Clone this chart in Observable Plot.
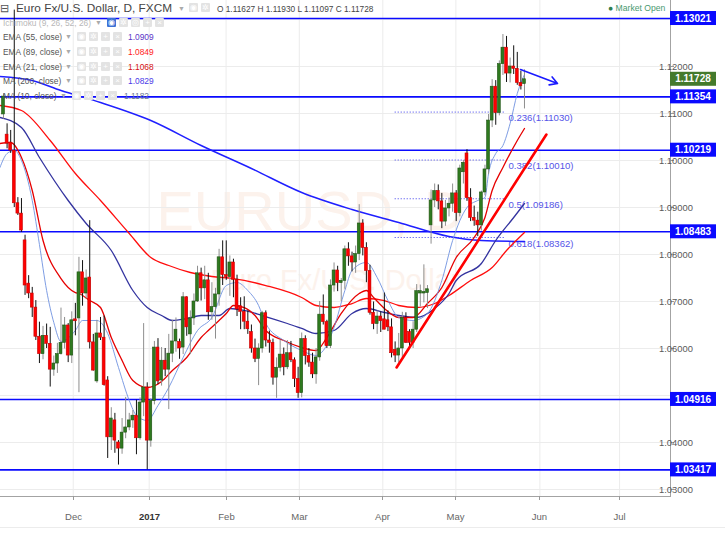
<!DOCTYPE html>
<html><head><meta charset="utf-8">
<script src="https://cdn.jsdelivr.net/npm/d3@7"></script>
<script src="https://cdn.jsdelivr.net/npm/@observablehq/plot@0.6"></script>
<style>
body{margin:0;background:#fff;font-family:"Liberation Sans",Arial,sans-serif;}
#wrap{position:relative;width:725px;height:543px;overflow:hidden;}
#chart{position:absolute;left:0;top:0;}
.ov{position:absolute;white-space:nowrap;line-height:1;}
.ic{position:absolute;width:9px;height:9px;background:#e3e3e3;border-radius:1px;color:#fff;font-size:8px;text-align:center;line-height:9px;}
.lg{position:absolute;left:3px;font-size:8.4px;color:#555;white-space:nowrap;}
.val{position:absolute;left:128px;font-size:8.4px;white-space:nowrap;}
.dd{position:absolute;font-size:7px;color:#aaa;}
</style></head><body>
<div id="wrap"><div id="chart"></div>
<div class="ov" style="left:0px;top:3px;font-size:11px;color:#555;">⊟</div>
<div class="ov" style="left:16px;top:3px;font-size:11.8px;color:#444;">Euro Fx/U.S. Dollar, D, FXCM</div>
<div class="dd" style="left:178px;top:5px;">▼</div>
<div class="ic" style="left:189px;top:3px;">◉</div>
<div class="ic" style="left:201px;top:3px;">✲</div>
<div class="ov" style="left:217px;top:5px;font-size:8.3px;color:#444;">O 1.11627 H 1.11930 L 1.11097 C 1.11728</div>
<div class="ov" style="left:608px;top:4px;font-size:8.6px;color:#4a9a70;"><span style="color:#2e7d4f">●</span> Market Open</div>

<div class="lg" style="top:18px;color:#b8b8b8;">Ichimoku (9, 26, 52, 26)</div><div class="dd" style="left:95px;top:19px;">▼</div>
<div class="ic" style="left:107px;top:18px;background:#3c72d6;">◉</div><div class="ic" style="left:119px;top:18px;">✲</div><div class="ic" style="left:131px;top:18px;">◎</div><div class="ic" style="left:143px;top:18px;">+</div><div class="ic" style="left:155px;top:18px;">×</div>

<div class="lg" style="top:32px;">EMA (55, close)</div><div class="dd" style="left:65px;top:33px;">▼</div>
<div class="ic" style="left:77px;top:32px;">◉</div><div class="ic" style="left:89px;top:32px;">✲</div><div class="ic" style="left:101px;top:32px;">+</div><div class="ic" style="left:113px;top:32px;">×</div>
<div class="val" style="top:32px;color:#5a36c8;">1.0909</div>

<div class="lg" style="top:47px;">EMA (89, close)</div><div class="dd" style="left:65px;top:48px;">▼</div>
<div class="ic" style="left:77px;top:47px;">◉</div><div class="ic" style="left:89px;top:47px;">✲</div><div class="ic" style="left:101px;top:47px;">+</div><div class="ic" style="left:113px;top:47px;">×</div>
<div class="val" style="top:47px;color:#ff1a1a;">1.0849</div>

<div class="lg" style="top:62px;">EMA (21, close)</div><div class="dd" style="left:65px;top:63px;">▼</div>
<div class="ic" style="left:77px;top:62px;">◉</div><div class="ic" style="left:89px;top:62px;">✲</div><div class="ic" style="left:101px;top:62px;">+</div><div class="ic" style="left:113px;top:62px;">×</div>
<div class="val" style="top:62px;color:#d41010;">1.1068</div>

<div class="lg" style="top:76px;">MA (200, close)</div><div class="dd" style="left:65px;top:77px;">▼</div>
<div class="ic" style="left:77px;top:76px;">◉</div><div class="ic" style="left:89px;top:76px;">✲</div><div class="ic" style="left:101px;top:76px;">+</div><div class="ic" style="left:113px;top:76px;">×</div>
<div class="val" style="top:76px;color:#4a3ae8;">1.0829</div>

<div class="lg" style="top:91px;">MA (10, close)</div><div class="dd" style="left:60px;top:92px;">▼</div>
<div class="ic" style="left:72px;top:91px;">◉</div><div class="ic" style="left:84px;top:91px;">✲</div><div class="ic" style="left:96px;top:91px;">+</div><div class="ic" style="left:108px;top:91px;">×</div>
<div class="val" style="top:91px;left:124px;color:#6a7894;">1.1182</div>
</div>
<script>
// ---- OHLC data (daily sessions, 4 Nov 2016 .. 30 May 2017) ----
const openP = [1.1098,1.1055,1.1038,1.1021,1.0909,1.0887,1.0830,1.0738,1.0717,1.0687,
1.0625,1.0588,1.0627,1.0610,1.0555,1.0568,1.0588,1.0612,1.0649,1.0585,
1.0662,1.0664,1.0762,1.0717,1.0751,1.0613,1.0530,1.0632,1.0623,1.0532,
1.0411,1.0447,1.0400,1.0387,1.0421,1.0432,1.0447,1.0457,1.0409,1.0485,
1.0517,1.0404,1.0488,1.0602,1.0532,1.0574,1.0555,1.0589,1.0615,1.0614,
1.0602,1.0709,1.0630,1.0664,1.0700,1.0760,1.0728,1.0745,1.0677,1.0688,
1.0715,1.0794,1.0756,1.0752,1.0783,1.0746,1.0690,1.0678,1.0657,1.0635,
1.0600,1.0578,1.0600,1.0675,1.0617,1.0612,1.0538,1.0559,1.0587,1.0560,
1.0590,1.0575,1.0535,1.0505,1.0620,1.0584,1.0570,1.0545,1.0581,1.0672,
1.0656,1.0605,1.0734,1.0766,1.0739,1.0744,1.0811,1.0796,1.0783,1.0801,
1.0866,1.0814,1.0765,1.0676,1.0652,1.0668,1.0662,1.0660,1.0645,1.0597,
1.0585,1.0600,1.0665,1.0635,1.0612,1.0640,1.0717,1.0717,1.0718,1.0862,
1.0915,1.0935,1.0913,1.0870,1.0898,1.0908,1.0930,1.0888,1.0975,1.1015,
1.0920,1.0878,1.0872,1.0862,1.0932,1.0981,1.1085,1.1157,1.1101,1.1205,
1.1240,1.1185,1.1200,1.1195,1.1165,1.11627];
const highP = [1.1142,1.1078,1.1064,1.1320,1.0921,1.0919,1.0841,1.0755,1.0730,1.0702,
1.0656,1.0647,1.0652,1.0645,1.0584,1.0611,1.0686,1.0666,1.0653,1.0678,
1.0696,1.0794,1.0787,1.0767,1.0872,1.0630,1.0660,1.0666,1.0669,1.0540,
1.0474,1.0462,1.0404,1.0451,1.0496,1.0462,1.0468,1.0490,1.0495,1.0653,
1.0527,1.0493,1.0615,1.0621,1.0602,1.0600,1.0630,1.0660,1.0665,1.0620,
1.0719,1.0710,1.0680,1.0716,1.0775,1.0771,1.0775,1.0760,1.0740,1.0728,
1.0811,1.0829,1.0829,1.0797,1.0790,1.0756,1.0708,1.0710,1.0680,1.0650,
1.0620,1.0610,1.0679,1.0680,1.0637,1.0620,1.0580,1.0618,1.0601,1.0617,
1.0615,1.0580,1.0560,1.0633,1.0627,1.0600,1.0590,1.0600,1.0700,1.0714,
1.0660,1.0746,1.0782,1.0775,1.0749,1.0818,1.0825,1.0805,1.0818,1.0906,
1.0874,1.0825,1.0777,1.0699,1.0680,1.0678,1.0718,1.0680,1.0663,1.0614,
1.0632,1.0677,1.0676,1.0640,1.0657,1.0736,1.0735,1.0778,1.0734,1.0937,
1.0950,1.0948,1.0930,1.0915,1.0920,1.0950,1.0936,1.0990,1.1000,1.1023,
1.0940,1.0903,1.0890,1.0935,1.0990,1.1098,1.1172,1.1170,1.1212,1.1268,
1.1264,1.1218,1.1244,1.1230,1.1190,1.11930];
const lowP = [1.1088,1.1025,1.1015,1.0900,1.0883,1.0847,1.0713,1.0706,1.0666,1.0617,
1.0568,1.0576,1.0600,1.0518,1.0541,1.0547,1.0586,1.0599,1.0570,1.0568,
1.0627,1.0506,1.0690,1.0705,1.0599,1.0552,1.0526,1.0617,1.0520,1.0366,
1.0383,1.0377,1.0352,1.0375,1.0408,1.0425,1.0430,1.0374,1.0405,1.0455,
1.0342,1.0390,1.0480,1.0523,1.0520,1.0540,1.0470,1.0570,1.0592,1.0577,
1.0587,1.0626,1.0587,1.0649,1.0698,1.0701,1.0704,1.0660,1.0660,1.0620,
1.0690,1.0734,1.0745,1.0711,1.0708,1.0668,1.0640,1.0640,1.0630,1.0590,
1.0570,1.0521,1.0590,1.0603,1.0590,1.0522,1.0494,1.0550,1.0542,1.0555,
1.0570,1.0517,1.0494,1.0495,1.0565,1.0560,1.0536,1.0524,1.0573,1.0650,
1.0600,1.0600,1.0720,1.0721,1.0700,1.0726,1.0775,1.0763,1.0760,1.0787,
1.0797,1.0740,1.0671,1.0640,1.0630,1.0634,1.0640,1.0636,1.0580,1.0570,
1.0569,1.0580,1.0611,1.0602,1.0600,1.0634,1.0688,1.0697,1.0685,1.0822,
1.0900,1.0895,1.0855,1.0860,1.0880,1.0890,1.0870,1.0880,1.0950,1.0913,
1.0870,1.0860,1.0838,1.0850,1.0925,1.0970,1.1070,1.1075,1.1095,1.1181,
1.1166,1.1165,1.1183,1.1160,1.1150,1.11097];
const closeP = [1.1136,1.1036,1.1021,1.0909,1.0887,1.0851,1.0734,1.0717,1.0687,1.0625,
1.0588,1.0627,1.0610,1.0555,1.0568,1.0588,1.0612,1.0649,1.0585,1.0660,
1.0658,1.0762,1.0717,1.0749,1.0613,1.0553,1.0632,1.0623,1.0522,1.0411,
1.0451,1.0404,1.0387,1.0421,1.0432,1.0447,1.0457,1.0409,1.0485,1.0517,
1.0404,1.0488,1.0602,1.0530,1.0574,1.0555,1.0589,1.0615,1.0640,1.0600,
1.0709,1.0645,1.0664,1.0700,1.0760,1.0728,1.0745,1.0677,1.0688,1.0715,
1.0794,1.0756,1.0752,1.0783,1.0746,1.0683,1.0678,1.0657,1.0641,1.0600,
1.0578,1.0600,1.0675,1.0617,1.0612,1.0538,1.0559,1.0587,1.0560,1.0590,
1.0575,1.0535,1.0505,1.0620,1.0584,1.0570,1.0545,1.0581,1.0672,1.0656,
1.0605,1.0734,1.0766,1.0739,1.0744,1.0811,1.0796,1.0783,1.0801,1.0866,
1.0814,1.0765,1.0676,1.0652,1.0668,1.0658,1.0640,1.0645,1.0590,1.0585,
1.0600,1.0665,1.0612,1.0612,1.0640,1.0722,1.0722,1.0720,1.0726,1.0915,
1.0935,1.0913,1.0870,1.0898,1.0908,1.0930,1.0888,1.0983,1.0995,1.0920,
1.0878,1.0872,1.0862,1.0932,1.0981,1.1085,1.1157,1.1101,1.1205,1.1240,
1.1185,1.1200,1.1195,1.1165,1.1158,1.11728];

// ---- indicator lines: [session index, price] ----
const ma10 = [[-1,1.09851],[1,1.10149],[3,1.10213],[5,1.10000],[8,1.09149],[10,1.08213],[12,1.07234],[14,1.06553],[16,1.06149],[20,1.06383],[22,1.06596],[26,1.06596],[29,1.06319],[32,1.05596],[35,1.04894],[37,1.04574],[40,1.04468],[43,1.04787],[46,1.05170],[50,1.05809],[54,1.06383],[58,1.06660],[62,1.07340],[65,1.07404],[68,1.07234],[71,1.06915],[73,1.06532],[78,1.06170],[83,1.05957],[87,1.05851],[89,1.05957],[92,1.06447],[95,1.07234],[97,1.07660],[101,1.07830],[104,1.07511],[107,1.07021],[110,1.06660],[114,1.06596],[118,1.06745],[122,1.07447],[125,1.08298],[129,1.09000],[132,1.09149],[134,1.09213],[135,1.09723],[137,1.10149],[139,1.10319],[141,1.10787],[143,1.11426],[145,1.11830]];
const ema21 = [[-1,1.10362],[2,1.10383],[5,1.10064],[8,1.09362],[11,1.08298],[16,1.07489],[20,1.07191],[21,1.07170],[24,1.07021],[27,1.06872],[30,1.06234],[33,1.05745],[36,1.05319],[40,1.05170],[44,1.05298],[47,1.05532],[51,1.05809],[55,1.06234],[57,1.06383],[60,1.06596],[62,1.06745],[64,1.06915],[67,1.06872],[70,1.06702],[73,1.06383],[78,1.06170],[83,1.06021],[87,1.05957],[90,1.06234],[94,1.06745],[99,1.07170],[101,1.07234],[103,1.07085],[106,1.06851],[110,1.06660],[114,1.06660],[118,1.06957],[122,1.07298],[126,1.07936],[131,1.08362],[134,1.08787],[136,1.09362],[139,1.09851],[143,1.10426],[145,1.10681]];
const ema55 = [[-1,1.10915],[5,1.10702],[10,1.10064],[18,1.09149],[23,1.08660],[30,1.08085],[36,1.07234],[40,1.06872],[44,1.06702],[47,1.06596],[51,1.06638],[55,1.06702],[60,1.06702],[63,1.06851],[67,1.06809],[72,1.06702],[79,1.06532],[83,1.06426],[87,1.06319],[92,1.06383],[97,1.06745],[101,1.06851],[106,1.06766],[110,1.06702],[115,1.06660],[120,1.06851],[124,1.07170],[126,1.07447],[133,1.07809],[137,1.08298],[142,1.08787],[145,1.09085]];
const ema89 = [[-1,1.11170],[5,1.11064],[13,1.10426],[20,1.09723],[27,1.09149],[35,1.08447],[41,1.07936],[46,1.07766],[52,1.07617],[58,1.07532],[64,1.07489],[73,1.07340],[83,1.07085],[87,1.06915],[92,1.06872],[97,1.06957],[101,1.07064],[106,1.07021],[110,1.06915],[115,1.06872],[120,1.06957],[124,1.07128],[130,1.07447],[136,1.07723],[140,1.08085],[145,1.08468]];
const ma200 = [[-1,1.11787],[8,1.11702],[16,1.11489],[27,1.11234],[41,1.10851],[55,1.10319],[69,1.09830],[83,1.09319],[97,1.08957],[110,1.08681],[124,1.08383],[133,1.08298],[145,1.08277]];

// ---- drawings ----
const levels = [1.13021, 1.11354, 1.10219, 1.08483, 1.04916, 1.03417];
const lastClose = 1.11728;
const fibLevels = [1.11030, 1.10010, 1.09186, 1.08362];
const fibRatios = ["0.236", "0.382", "0.5", "0.618"];
const fibFrom = 109, fibTo = 139.7;
const trendLine = [[109.4, 1.05596], [151.1, 1.10553]];
const arrowLine = {x1: 143.9, y1: 1.11936, x2: 154.2, y2: 1.11638};
const watermark = ["EURUSD, D", "Euro Fx/U.S. Dollar"];

// ---- axes ----
const gridPrices = [1.03,1.04,1.05,1.06,1.07,1.08,1.09,1.10,1.11,1.12,1.13];
const labelPrices = [1.03,1.04,1.06,1.07,1.08,1.09,1.10,1.11,1.12];
const monthTickPos = [19.40, 40.55, 61.95, 82.33, 105.57, 125.91, 149.29, 171.47];
const monthLabels = ["Dec","2017","Feb","Mar","Apr","May","Jun","Jul"];

const candles = openP.map((o, i) => ({i, open: o, high: highP[i], low: lowP[i], close: closeP[i]}));
const up = candles.filter(d => d.close >= d.open);
const down = candles.filter(d => d.close < d.open);
const fib = fibLevels.map((v, k) => ({v, label: `${fibRatios[k]}(${v.toFixed(5)})`}));
const months = monthTickPos.map((p, k) => ({p, label: monthLabels[k]}));

const FONT = "'Liberation Sans', Arial, sans-serif";

function axes(index, scales, values, dims) {
  const x = scales.x, y = scales.y;
  const g = d3.create("svg:g").attr("font-family", FONT);
  const right = dims.width - dims.marginRight;
  const bottom = dims.height - dims.marginBottom;
  g.append("line").attr("x1", right + 0.5).attr("x2", right + 0.5).attr("y1", 0).attr("y2", bottom + 1).attr("stroke", "#a3a3a3");
  g.append("line").attr("x1", 0).attr("x2", right).attr("y1", bottom + 0.5).attr("y2", bottom + 0.5).attr("stroke", "#a3a3a3");
  g.append("line").attr("x1", 0).attr("x2", dims.width).attr("y1", bottom + 31.5).attr("y2", bottom + 31.5).attr("stroke", "#ececec");
  for (const t of labelPrices) {
    const yy = Math.round(y(t)) + 0.5;
    g.append("line").attr("x1", right).attr("x2", right + 4).attr("y1", yy).attr("y2", yy).attr("stroke", "#999");
    g.append("text").attr("x", right + 6).attr("y", yy).attr("dy", "0.35em").attr("font-size", 9.4).attr("fill", "#5a5a5a").text(t.toFixed(5));
  }
  for (const m of months) {
    const xx = Math.round(x(m.p)) + 0.5;
    g.append("line").attr("x1", xx).attr("x2", xx).attr("y1", bottom).attr("y2", bottom + 4).attr("stroke", "#999");
    g.append("text").attr("x", xx).attr("y", bottom + 21).attr("dy", "0.35em").attr("text-anchor", "middle")
      .attr("font-size", 9.5).attr("fill", m.label === "2017" ? "#333" : "#666").attr("font-weight", m.label === "2017" ? "bold" : "normal").text(m.label);
  }
  const box = (v, fill) => {
    const yy = y(v);
    g.append("rect").attr("x", right).attr("y", yy - 7).attr("width", 46).attr("height", 14).attr("fill", fill);
    g.append("text").attr("x", right + 23).attr("y", yy).attr("dy", "0.36em").attr("text-anchor", "middle")
      .attr("font-size", 10).attr("font-weight", "bold").attr("fill", "#fff").text(v.toFixed(5));
  };
  for (const v of levels) box(v, "#0a0aff");
  box(lastClose, "#447a2c");
  return g.node();
}

const chart = Plot.plot({
  width: 725, height: 543,
  marginLeft: 0, marginRight: 55, marginTop: 0, marginBottom: 47,
  x: {type: "linear", domain: [-0.835, 185.64], axis: null},
  y: {domain: [1.028511, 1.134043], axis: null},
  style: {background: "transparent", fontFamily: FONT, overflow: "visible"},
  marks: [
    Plot.text([watermark[0]], {frameAnchor: "middle", dx: -25, dy: -36, fontSize: 56, fill: "#fcf2ec", text: d => d}),
    Plot.text([watermark[1]], {frameAnchor: "middle", dy: 32, fontSize: 29, fill: "#fcf2ec", text: d => d}),
    Plot.ruleY(gridPrices, {stroke: "#ececec"}),
    Plot.ruleX(monthTickPos, {stroke: "#ececec"}),
    Plot.ruleY(levels, {stroke: "#0a0aff", strokeWidth: 1.6}),
    Plot.ruleY(fib, {y: "v", x1: fibFrom, x2: fibTo, stroke: "#5b5bef", strokeDasharray: "1.2,1.8", strokeWidth: 1}),
    Plot.text(fib, {y: "v", x: fibTo, text: "label", dx: 3, dy: 6, textAnchor: "start", fontSize: 9.6, fill: "#5555e8"}),
    Plot.line(ma200, {stroke: "#1f1fff", strokeWidth: 1.5, curve: "monotone-x", clip: true}),
    Plot.line(ema89, {stroke: "#ff0d0d", strokeWidth: 1.3, curve: "monotone-x", clip: true}),
    Plot.line(ema55, {stroke: "#33339f", strokeWidth: 1.3, curve: "monotone-x", clip: true}),
    Plot.line(ema21, {stroke: "#e60000", strokeWidth: 1.3, curve: "monotone-x", clip: true}),
    Plot.line(ma10, {stroke: "#6f92e0", strokeWidth: 0.9, curve: "monotone-x", clip: true}),
    Plot.ruleX(up, {x: "i", y1: "low", y2: "high", stroke: "#8e8e8e", strokeWidth: 1}),
    Plot.ruleX(down, {x: "i", y1: "low", y2: "high", stroke: "#111", strokeWidth: 1}),
    Plot.rect(up, {x1: d => d.i - 0.4, x2: d => d.i + 0.4, y1: "open", y2: "close", fill: "#2f7a1f", stroke: "#1f5414", strokeWidth: 0.6}),
    Plot.rect(down, {x1: d => d.i - 0.4, x2: d => d.i + 0.4, y1: "open", y2: "close", fill: "#ff0000", stroke: "#c40000", strokeWidth: 0.6}),
    Plot.line(trendLine, {stroke: "#ff0000", strokeWidth: 2.6}),
    Plot.arrow([arrowLine], {x1: "x1", y1: "y1", x2: "x2", y2: "y2", bend: 0, headLength: 8, stroke: "#1a1aff", strokeWidth: 1.6}),
    axes
  ]
});
document.getElementById("chart").appendChild(chart);
</script>
</body></html>
